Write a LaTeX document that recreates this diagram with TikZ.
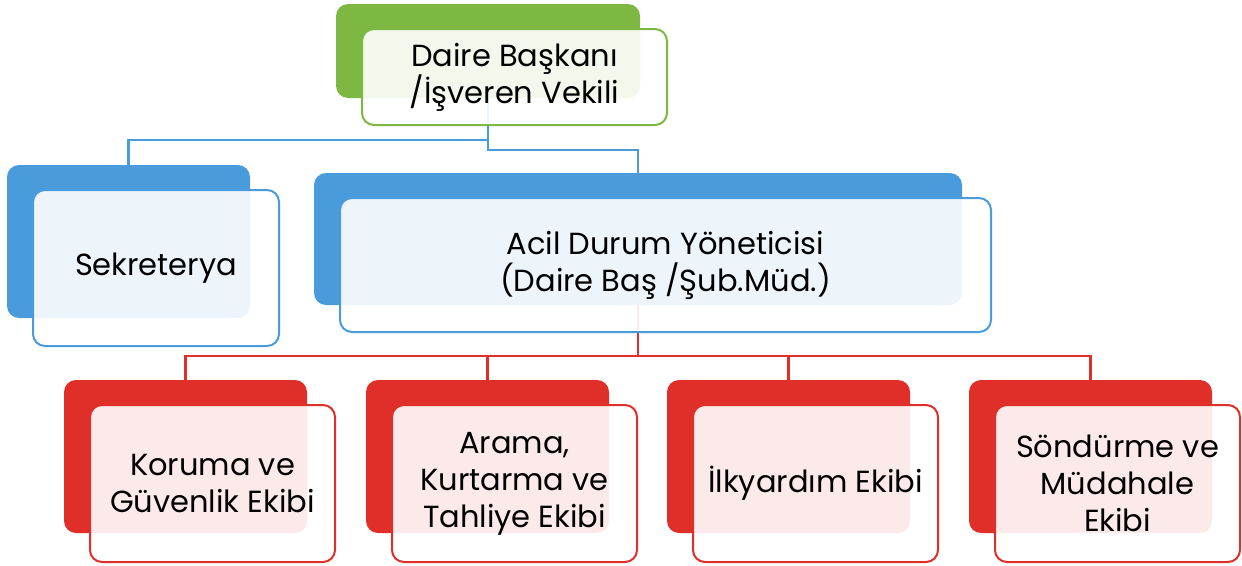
\documentclass[tikz,border=0pt]{standalone}
\usepackage{fontspec}
\setmainfont{Poppins}
\usepackage{tikz}
\usetikzlibrary{positioning}

\definecolor{orggreen}{RGB}{125,185,66}
\definecolor{orgblue}{RGB}{74,155,220}
\definecolor{orgred}{RGB}{224,47,40}

\begin{document}
\begin{tikzpicture}[
    x=1pt, y=-1pt,
    back/.style={fill=#1, rounded corners=12pt, anchor=north west, inner sep=0pt, outer sep=0pt},
    front/.style={draw=#1, line width=2pt, fill=white, fill opacity=0.9, text opacity=1,
        rounded corners=12pt, anchor=north west, inner sep=0pt, outer sep=0pt, align=center,
        font=\fontsize{30.5}{37}\selectfont, xshift=26pt, yshift=-25pt},
    link/.style={draw=#1, line width=2.2pt}
]
\useasboundingbox (0,0) rectangle (1242,565);

% colored boxes behind
\node[back=orggreen, minimum width=304pt, minimum height=94pt] (daireB) at (336,4) {};
\node[back=orgblue, minimum width=243pt, minimum height=153pt] (sekB) at (7,165) {};
\node[back=orgblue, minimum width=648pt, minimum height=132pt] (acilB) at (314,173) {};
\node[back=orgred, minimum width=243pt, minimum height=153pt] (korB) at (64,380) {};
\node[back=orgred, minimum width=243pt, minimum height=153pt] (aramaB) at (366,380) {};
\node[back=orgred, minimum width=243pt, minimum height=153pt] (ilkB) at (667,380) {};
\node[back=orgred, minimum width=243pt, minimum height=153pt] (sonB) at (969,380) {};

% connectors
\draw[link=orgblue] (daireB.south) -- ++(0,42) -| (sekB.north);
\draw[link=orgblue] (daireB.south) ++(0,42) -- ++(0,10) -| (acilB.north);
\draw[link=orgred] (acilB.south) -- ++(0,51) -| (korB.north);
\draw[link=orgred] (acilB.south) -- ++(0,51) -| (aramaB.north);
\draw[link=orgred] (acilB.south) -- ++(0,51) -| (ilkB.north);
\draw[link=orgred] (acilB.south) -- ++(0,51) -| (sonB.north);

% white boxes with text
\node[front=orggreen, minimum width=305pt, minimum height=96pt] (daire) at (daireB.north west) {Daire Başkanı\\/İşveren Vekili};
\node[front=orgblue, minimum width=246pt, minimum height=156pt] (sek) at (sekB.north west) {Sekreterya};
\node[front=orgblue, minimum width=651pt, minimum height=134pt] (acil) at (acilB.north west) {Acil Durum Yöneticisi\\(Daire Baş /Şub.Müd.)};
\node[front=orgred, minimum width=245pt, minimum height=157pt] (kor) at (korB.north west) {Koruma ve\\Güvenlik Ekibi};
\node[front=orgred, minimum width=245pt, minimum height=157pt] (arama) at (aramaB.north west) {Arama,\\Kurtarma ve\\Tahliye Ekibi};
\node[front=orgred, minimum width=245pt, minimum height=157pt] (ilk) at (ilkB.north west) {İlkyardım Ekibi};
\node[front=orgred, minimum width=245pt, minimum height=157pt] (son) at (sonB.north west) {Söndürme ve\\Müdahale\\Ekibi};
\end{tikzpicture}
\end{document}
